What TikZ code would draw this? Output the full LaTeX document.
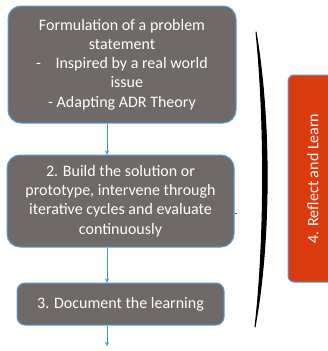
\documentclass[tikz,border=0pt]{standalone}
\usepackage{fontspec}
\setmainfont{Carlito}
\usetikzlibrary{calc, positioning}
\definecolor{boxgray}{HTML}{6F6968}
\definecolor{boxblue}{HTML}{5B9BD5}
\definecolor{flowblue}{HTML}{3A9AD9}
\definecolor{reflred}{HTML}{D93A0E}
\tikzset{
  font=\fontsize{16}{19.3}\selectfont,
  % Set arrowhead
  >=stealth,
  % Process step
  stepbox/.style={draw=boxblue, fill=boxgray, line width=1pt,
    rounded corners=13pt, text=white, align=center, inner sep=0pt},
  % Reflection step
  reflbox/.style={draw=boxblue, fill=reflred, line width=1pt,
    rounded corners=6pt, text=white, inner sep=0pt},
  % Flow arrows
  flow/.style={->, draw=flowblue, line width=0.9pt},
}

\begin{document}
\begin{tikzpicture}[x=1pt, y=-1pt]
  \clip (0,0) rectangle (328,351);
  \useasboundingbox (0,0) rectangle (328,351);

  \node[stepbox, minimum width=228pt, minimum height=117pt] (s1) at (122,64.5)
    {Formulation of a problem\\statement\\
     -\hspace{0.9em}Inspired by a real world\\
     \hspace{0.6em}issue\\
     - Adapting ADR Theory};
  \node[stepbox, minimum width=227pt, minimum height=92pt] (s2) at (120.5,201)
    {2. Build the solution or\\prototype, intervene through\\
     iterative cycles and evaluate\\continuously};
  \node[stepbox, minimum width=207pt, minimum height=42pt,
    rounded corners=8pt] (s3) at (120.5,304) {3. Document the learning};

  \node[reflbox, minimum width=207pt, minimum height=50pt, rotate=90]
    (s4) at (313,178.5) {4. Reflect and Learn};

  % arrows down the left column
  \coordinate (col) at (107,0);
  \coordinate (out) at (107,346);
  \draw[flow] (s1.south -| col) -- (s2.north -| col);
  \draw[flow] (s2.south -| col) -- (s3.north -| col);
  \draw[flow] (s3.south -| col) -- (out);

  % small tick on the right of step 2
  \coordinate (tick) at (237,213);
  \draw[gray!70!black, line width=0.6pt] (s2.east |- tick) -- (tick);

  % bracket
  \filldraw[line width=1pt, line join=round]
    (256,32) .. controls (271,120) and (271,240) .. (255,327)
    .. controls (265,240) and (265,120) .. cycle;
\end{tikzpicture}
\end{document}
